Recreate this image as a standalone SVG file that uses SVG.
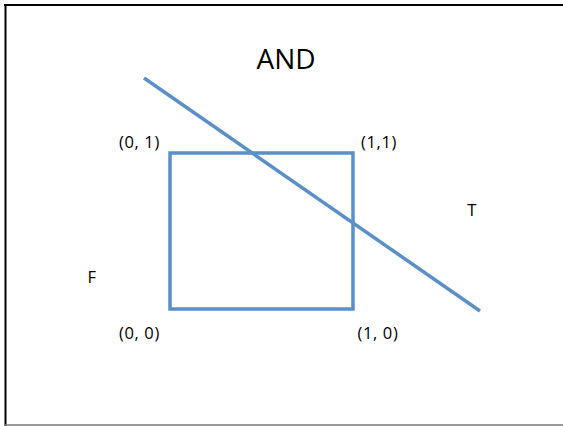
<svg xmlns="http://www.w3.org/2000/svg" width="563" height="426" viewBox="0 0 563 426">
<style>
.t{font-family:"Open Sans","Liberation Sans",sans-serif;fill:#000}
.s{font-size:16.5px;letter-spacing:0.6px}
.b{fill:none;stroke:#5b8fc8;stroke-width:3.5}
</style>
<rect width="563" height="426" fill="#fff"/>
<g id="frame">
<line x1="4" y1="5" x2="563" y2="5" stroke="#000" stroke-width="2"/>
<line x1="5.5" y1="4" x2="5.5" y2="426" stroke="#000" stroke-width="2"/>
<line x1="5" y1="425" x2="563" y2="425" stroke="#777" stroke-width="1.5"/>
</g>
<text class="t" x="286" y="69" font-size="28" text-anchor="middle">AND</text>
<g id="square"><rect class="b" x="170" y="153" width="183" height="156"/></g>
<g id="connectors"><line class="b" x1="144" y1="78" x2="480" y2="311"/></g>
<g id="labels">
<text class="t s" x="139.5" y="148" text-anchor="middle">(0, 1)</text>
<text class="t s" x="379" y="148" text-anchor="middle">(1,1)</text>
<text class="t s" x="472" y="216" text-anchor="middle">T</text>
<text class="t s" x="92" y="283" text-anchor="middle">F</text>
<text class="t s" x="139.5" y="339" text-anchor="middle">(0, 0)</text>
<text class="t s" x="378" y="339" text-anchor="middle">(1, 0)</text>
</g>
</svg>
